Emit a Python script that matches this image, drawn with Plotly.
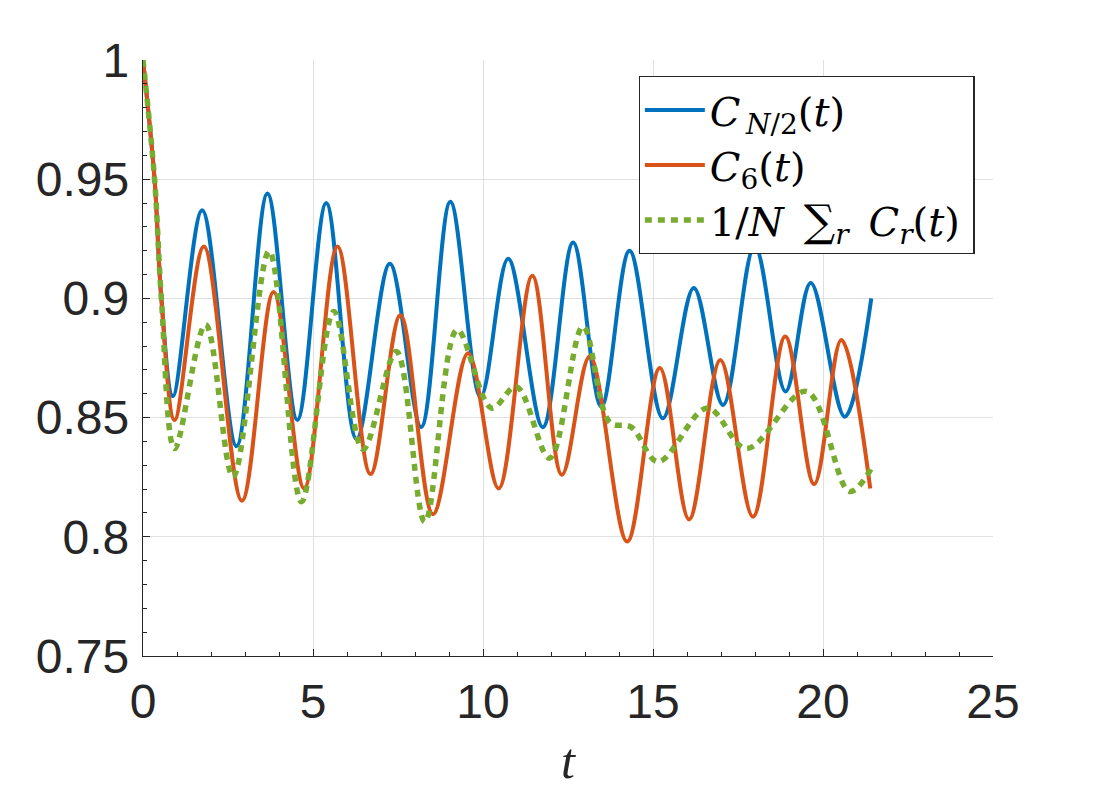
import plotly.graph_objects as go

# values (extrema plus a few points on the initial drop)
t_half = [0, 0.34, 0.54, 0.88, 1.74, 2.75, 3.66, 4.54, 5.39, 6.28, 7.26, 8.18, 9.04, 9.93,
          10.74, 11.76, 12.65, 13.48, 14.31, 15.29, 16.2, 17.06, 17.99, 18.9, 19.64,
          20.64, 21.42]
c_half = [1, 0.95, 0.9, 0.859, 0.937, 0.838, 0.944, 0.849, 0.940, 0.841, 0.9145, 0.846,
          0.9405, 0.8586, 0.9166, 0.846, 0.9235, 0.8546, 0.920, 0.8497, 0.9044, 0.8553,
          0.9221, 0.861, 0.9065, 0.8504, 0.900]

t_six = [0, 0.34, 0.54, 0.93, 1.79, 2.91, 3.84, 4.74, 5.72, 6.69, 7.57, 8.53, 9.56, 10.46,
         11.45, 12.32, 13.14, 14.24, 15.2, 16.06, 16.98, 17.94, 18.89, 19.74, 20.54, 21.39]
c_six = [1, 0.95, 0.9, 0.849, 0.9218, 0.8151, 0.9027, 0.8203, 0.9218, 0.8263, 0.8929,
         0.8095, 0.877, 0.8203, 0.9095, 0.826, 0.8756, 0.798, 0.8708, 0.8073, 0.8742,
         0.8084, 0.884, 0.8221, 0.8826, 0.8203]

t_avg = [0, 0.34, 0.54, 0.93, 1.84, 2.65, 3.71, 4.66, 5.61, 6.47, 7.45, 8.29, 9.24, 10.25,
         10.98, 11.96, 12.94, 13.73, 14.36, 15.15, 16.6, 17.75, 19.51, 20.78, 21.42]
c_avg = [1, 0.95, 0.9, 0.837, 0.889, 0.8252, 0.9198, 0.8147, 0.8945, 0.8367, 0.8777,
         0.8063, 0.8868, 0.854, 0.863, 0.833, 0.8882, 0.848, 0.846, 0.8315, 0.854, 0.837,
         0.861, 0.819, 0.8287]

names = ['<i>C</i><sub>\u2009<i>N</i>/2</sub>(<i>t</i>)',
         '<i>C</i><sub>6</sub>(<i>t</i>)',
         '1/<i>N</i>\u2002<span style="font-size:44px">\u2211</span><sub><i>r</i></sub>\u2002'
         '<i>C<sub>r</sub></i>(<i>t</i>)\u2009']

fig = go.Figure()
fig.add_trace(go.Scatter(x=t_half, y=c_half, mode='lines', name=names[0],
                         line=dict(color='#0072BD', width=4, shape='spline')))
fig.add_trace(go.Scatter(x=t_six, y=c_six, mode='lines', name=names[1],
                         line=dict(color='#D95319', width=4, shape='spline')))
fig.add_trace(go.Scatter(x=t_avg, y=c_avg, mode='lines', name=names[2],
                         line=dict(color='#77AC30', width=5.5, shape='spline', dash='7px,6px')))

tick_font = dict(family='Liberation Sans, Arial', size=48, color='#262626')
fig.update_layout(
    width=1100, height=800,
    paper_bgcolor='white', plot_bgcolor='white',
    margin=dict(l=135, r=115, t=52, b=152, autoexpand=False),
    legend=dict(x=0.583, y=0.973, xanchor='left', yanchor='top',
                bgcolor='white', bordercolor='#262626', borderwidth=1.3,
                font=dict(family='DejaVu Serif, serif', size=40, color='black'),
                itemwidth=60, tracegroupgap=0),
    xaxis=dict(range=[0, 25], dtick=5, tick0=0, showgrid=True, gridcolor='#e0e0e0',
               zeroline=False, showline=True, linecolor='#262626', linewidth=1.3,
               ticks='inside', ticklen=7, tickcolor='#262626', tickfont=tick_font,
               automargin=False, ticklabelstandoff=3,
               minor=dict(dtick=1, ticks='inside', ticklen=4, tickcolor='#262626', showgrid=False),
               title=dict(text='<i>t</i>', font=dict(family='Liberation Serif, serif', size=50,
                                                       color='#262626'), standoff=16)),
    yaxis=dict(range=[0.75, 1], dtick=0.05, tick0=0.75, showgrid=True, gridcolor='#e0e0e0',
               zeroline=False, showline=True, linecolor='#262626', linewidth=1.3,
               ticks='inside', ticklen=7, tickcolor='#262626', tickfont=tick_font,
               automargin=False, ticklabelstandoff=3,
               minor=dict(dtick=0.01, ticks='inside', ticklen=4, tickcolor='#262626', showgrid=False)),
)

fig.write_html("out.html")
